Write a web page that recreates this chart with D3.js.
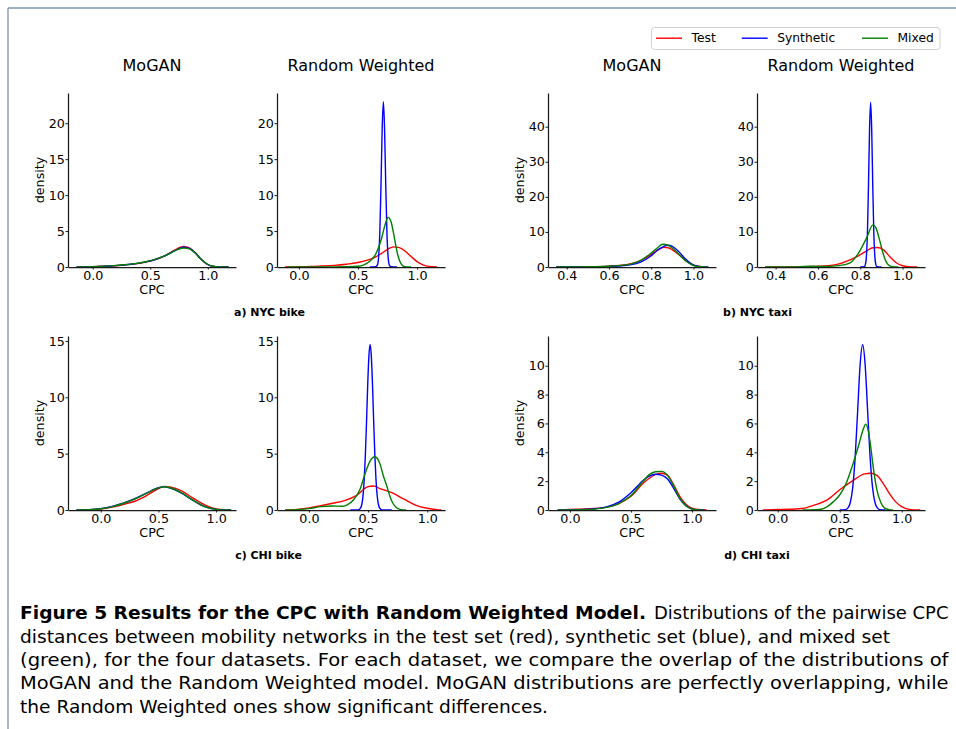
<!DOCTYPE html>
<html>
<head>
<meta charset="utf-8">
<script src="https://cdn.jsdelivr.net/npm/d3@7"></script>
<style>
  html, body { margin: 0; padding: 0; background: #fff; }
  svg { display: block; }
</style>
</head>
<body>
<svg id="chart" width="956" height="729"></svg>
<script>
// ---------------- DATA ----------------
const seriesNames = ["Test", "Synthetic", "Mixed"];
const modelNames = ["MoGAN", "Random Weighted"];
const datasetNames = ["a) NYC bike", "b) NYC taxi", "c) CHI bike", "d) CHI taxi"];

const xTicksNYCbike = [0.0, 0.5, 1.0];
const xTicksNYCtaxi = [0.4, 0.6, 0.8, 1.0];
const xTicksCHIbike = [0.0, 0.5, 1.0];
const xTicksCHItaxi = [0.0, 0.5, 1.0];
const yTicksNYCbike = [0, 5, 10, 15, 20];
const yTicksNYCtaxi = [0, 10, 20, 30, 40];
const yTicksCHIbike = [0, 5, 10, 15];
const yTicksCHItaxi = [0, 2, 4, 6, 8, 10];

// density curves [CPC, density]
const nycBikeMoganTest = [[-0.14,0],[-0.05,0.02],[0.05,0.06],[0.15,0.13],[0.25,0.24],[0.35,0.4],[0.45,0.65],[0.55,1.05],[0.62,1.5],[0.68,2.05],[0.74,2.6],[0.79,2.85],[0.84,2.65],[0.89,2.0],[0.94,1.1],[0.99,0.42],[1.04,0.1],[1.1,0.01],[1.18,0]];
const nycBikeMoganSynthetic = [[-0.14,0],[-0.05,0.02],[0.05,0.07],[0.15,0.14],[0.25,0.26],[0.35,0.42],[0.45,0.68],[0.55,1.08],[0.62,1.5],[0.68,2.0],[0.74,2.5],[0.79,2.75],[0.84,2.6],[0.89,1.98],[0.94,1.1],[0.99,0.43],[1.04,0.1],[1.1,0.01],[1.18,0]];
const nycBikeMoganMixed = [[-0.14,0],[-0.05,0.02],[0.05,0.07],[0.15,0.15],[0.25,0.27],[0.35,0.44],[0.45,0.7],[0.55,1.1],[0.62,1.5],[0.68,1.98],[0.74,2.45],[0.79,2.65],[0.84,2.52],[0.89,1.95],[0.94,1.1],[0.99,0.45],[1.04,0.11],[1.1,0.01],[1.18,0]];

const nycBikeRandomTest = [[-0.12,0],[0,0.03],[0.1,0.07],[0.2,0.13],[0.3,0.22],[0.4,0.38],[0.5,0.62],[0.6,1.05],[0.65,1.4],[0.7,1.9],[0.75,2.45],[0.8,2.8],[0.85,2.7],[0.9,2.2],[0.95,1.45],[1.0,0.75],[1.05,0.3],[1.1,0.08],[1.17,0]];
const nycBikeRandomSynthetic = [[0.6,0],[0.65,0.05],[0.665,0.3],[0.675,1.45],[0.685,4.85],[0.695,11.5],[0.705,19.3],[0.715,23],[0.725,19.3],[0.735,11.5],[0.745,4.85],[0.755,1.45],[0.765,0.3],[0.78,0.03],[0.83,0]];
const nycBikeRandomMixed = [[-0.1,0],[0.1,0.005],[0.3,0.01],[0.4,0.03],[0.5,0.1],[0.55,0.3],[0.6,0.8],[0.65,1.8],[0.7,4.0],[0.73,5.9],[0.755,6.9],[0.78,6.3],[0.8,4.8],[0.82,3.0],[0.84,1.5],[0.86,0.6],[0.88,0.15],[0.9,0.03],[0.95,0]];

const nycTaxiMoganTest = [[0.35,0],[0.4,0.02],[0.5,0.08],[0.6,0.25],[0.65,0.45],[0.7,0.85],[0.75,1.8],[0.8,3.6],[0.83,4.8],[0.86,5.6],[0.88,5.5],[0.9,4.9],[0.93,3.6],[0.96,2.0],[0.99,0.8],[1.02,0.2],[1.05,0.03],[1.07,0]];
const nycTaxiMoganSynthetic = [[0.35,0],[0.5,0.05],[0.6,0.15],[0.65,0.3],[0.7,0.6],[0.75,1.4],[0.8,3.2],[0.83,4.8],[0.86,5.9],[0.88,6.2],[0.9,5.9],[0.93,4.4],[0.96,2.4],[0.99,0.9],[1.02,0.2],[1.05,0.02],[1.07,0]];
const nycTaxiMoganMixed = [[0.35,0],[0.5,0.06],[0.6,0.22],[0.65,0.4],[0.7,0.8],[0.75,1.9],[0.8,4.0],[0.83,5.5],[0.855,6.5],[0.88,6.2],[0.9,5.4],[0.93,3.7],[0.96,1.9],[0.99,0.7],[1.02,0.15],[1.05,0.02],[1.07,0]];

const nycTaxiRandomTest = [[0.35,0],[0.4,0.01],[0.5,0.05],[0.6,0.2],[0.65,0.4],[0.7,0.9],[0.75,2.0],[0.78,2.8],[0.8,3.5],[0.83,4.6],[0.86,5.5],[0.88,5.55],[0.91,4.9],[0.94,2.9],[0.97,1.2],[1.0,0.35],[1.03,0.08],[1.06,0.01],[1.07,0]];
const nycTaxiRandomSynthetic = [[0.8,0],[0.819,0.09],[0.824,0.62],[0.829,2.95],[0.834,9.9],[0.839,23.6],[0.844,39.5],[0.849,47],[0.854,39.5],[0.859,23.6],[0.864,9.9],[0.869,2.95],[0.874,0.62],[0.879,0.09],[0.9,0]];
const nycTaxiRandomMixed = [[0.35,0],[0.5,0.05],[0.57,0.2],[0.62,0.15],[0.7,0.4],[0.75,1.1],[0.79,3.8],[0.83,8.3],[0.86,12],[0.875,11],[0.89,8.0],[0.905,4.5],[0.92,1.8],[0.935,0.5],[0.95,0.1],[0.98,0]];

const chiBikeMoganTest = [[-0.21,0],[-0.1,0.02],[0.0,0.08],[0.1,0.25],[0.2,0.5],[0.3,0.8],[0.4,1.3],[0.5,1.9],[0.55,2.1],[0.6,2.05],[0.7,1.7],[0.8,1.05],[0.9,0.45],[1.0,0.1],[1.1,0.01],[1.13,0]];
const chiBikeMoganSynthetic = [[-0.21,0],[-0.1,0.03],[0.0,0.12],[0.1,0.32],[0.2,0.62],[0.3,1.02],[0.4,1.52],[0.5,1.97],[0.55,2.05],[0.6,1.95],[0.7,1.5],[0.8,0.85],[0.9,0.3],[1.0,0.06],[1.1,0],[1.13,0]];
const chiBikeMoganMixed = [[-0.21,0],[-0.1,0.03],[0.0,0.11],[0.1,0.3],[0.2,0.6],[0.3,1.0],[0.4,1.5],[0.5,1.96],[0.55,2.06],[0.6,1.97],[0.7,1.52],[0.8,0.87],[0.9,0.31],[1.0,0.06],[1.1,0],[1.13,0]];

const chiBikeRandomTest = [[-0.2,0],[-0.1,0.06],[0.0,0.18],[0.1,0.38],[0.2,0.6],[0.3,0.83],[0.4,1.27],[0.5,2.07],[0.55,2.13],[0.6,1.9],[0.7,1.54],[0.8,0.98],[0.9,0.44],[1.0,0.15],[1.1,0.01],[1.12,0]];
const chiBikeRandomSynthetic = [[0.35,0],[0.417,0.015],[0.437,0.19],[0.447,0.51],[0.457,1.25],[0.467,2.65],[0.477,4.9],[0.487,7.9],[0.497,11.2],[0.507,13.7],[0.517,14.7],[0.527,13.7],[0.537,11.2],[0.547,7.9],[0.557,4.9],[0.567,2.65],[0.577,1.25],[0.587,0.51],[0.597,0.19],[0.617,0.015],[0.7,0]];
const chiBikeRandomMixed = [[-0.2,0],[-0.1,0.03],[0.0,0.12],[0.1,0.3],[0.2,0.35],[0.28,0.33],[0.32,0.44],[0.376,0.89],[0.43,1.8],[0.48,3.4],[0.52,4.4],[0.555,4.73],[0.58,4.55],[0.6,4.1],[0.63,3.0],[0.66,2.07],[0.69,1.05],[0.71,0.6],[0.74,0.2],[0.77,0.06],[0.82,0]];

const chiTaxiMoganTest = [[-0.1,0],[0.0,0.04],[0.1,0.06],[0.2,0.1],[0.3,0.2],[0.4,0.45],[0.5,0.95],[0.6,1.85],[0.65,2.2],[0.7,2.45],[0.75,2.55],[0.8,2.4],[0.85,1.75],[0.9,0.95],[0.95,0.4],[1.0,0.12],[1.05,0.03],[1.12,0]];
const chiTaxiMoganSynthetic = [[-0.1,0],[0.0,0.01],[0.1,0.03],[0.2,0.08],[0.3,0.22],[0.4,0.55],[0.5,1.2],[0.6,2.05],[0.65,2.35],[0.7,2.48],[0.75,2.42],[0.8,2.15],[0.85,1.5],[0.9,0.78],[0.95,0.3],[1.0,0.08],[1.05,0.01],[1.1,0]];
const chiTaxiMoganMixed = [[-0.1,0],[0.1,0.02],[0.2,0.06],[0.3,0.18],[0.4,0.45],[0.5,1.0],[0.6,2.0],[0.65,2.45],[0.7,2.65],[0.75,2.68],[0.8,2.4],[0.85,1.65],[0.9,0.82],[0.95,0.3],[1.0,0.07],[1.05,0.01],[1.1,0]];

const chiTaxiRandomTest = [[-0.12,0],[-0.1,0.01],[0.0,0.03],[0.1,0.05],[0.2,0.1],[0.3,0.35],[0.4,0.7],[0.5,1.4],[0.6,2.0],[0.7,2.5],[0.75,2.55],[0.8,2.4],[0.85,1.85],[0.9,1.15],[0.95,0.58],[1.0,0.23],[1.05,0.06],[1.1,0.01],[1.15,0]];
const chiTaxiRandomSynthetic = [[0.5,0],[0.545,0.02],[0.565,0.13],[0.585,0.5],[0.605,1.55],[0.625,3.7],[0.645,6.9],[0.665,10.1],[0.685,11.45],[0.705,10.1],[0.725,6.9],[0.745,3.7],[0.765,1.55],[0.785,0.5],[0.805,0.13],[0.825,0.02],[0.87,0]];
const chiTaxiRandomMixed = [[0.2,0],[0.3,0.02],[0.35,0.05],[0.4,0.23],[0.45,0.58],[0.5,1.04],[0.55,1.8],[0.6,3.0],[0.65,4.4],[0.69,5.6],[0.71,5.95],[0.73,5.5],[0.75,4.4],[0.77,3.0],[0.8,1.4],[0.83,0.55],[0.86,0.15],[0.9,0.02],[0.93,0]];

const captionBold = "Figure 5  Results for the CPC with Random Weighted Model.";
const captionLines = [
  "Distributions of the pairwise CPC",
  "distances between mobility networks in the test set (red), synthetic set (blue), and mixed set",
  "(green), for the four datasets. For each dataset, we compare the overlap of the distributions of",
  "MoGAN and the Random Weighted model. MoGAN distributions are perfectly overlapping, while",
  "the Random Weighted ones show significant differences."
];

// ---------------- LAYOUT / STYLE ----------------
const colors = { Test: "#ff0000", Synthetic: "#0000ff", Mixed: "#008000" };
const FONT = "'DejaVu Sans', Verdana, sans-serif";

const panels = [
  { ds: 0, m: 0, left: 68,  top: 93,  xd: [-0.215, 1.245], yd: [0, 24.2], xt: xTicksNYCbike, yt: yTicksNYCbike, curves: [nycBikeMoganTest, nycBikeMoganSynthetic, nycBikeMoganMixed] },
  { ds: 0, m: 1, left: 277, top: 93,  xd: [-0.186, 1.237], yd: [0, 24.2], xt: xTicksNYCbike, yt: yTicksNYCbike, curves: [nycBikeRandomTest, nycBikeRandomSynthetic, nycBikeRandomMixed] },
  { ds: 1, m: 0, left: 548, top: 93,  xd: [0.311, 1.107], yd: [0, 49.6], xt: xTicksNYCtaxi, yt: yTicksNYCtaxi, curves: [nycTaxiMoganTest, nycTaxiMoganSynthetic, nycTaxiMoganMixed] },
  { ds: 1, m: 1, left: 757, top: 93,  xd: [0.312, 1.106], yd: [0, 49.6], xt: xTicksNYCtaxi, yt: yTicksNYCtaxi, curves: [nycTaxiRandomTest, nycTaxiRandomSynthetic, nycTaxiRandomMixed] },
  { ds: 2, m: 0, left: 68,  top: 336, xd: [-0.284, 1.172], yd: [0, 15.44], xt: xTicksCHIbike, yt: yTicksCHIbike, curves: [chiBikeMoganTest, chiBikeMoganSynthetic, chiBikeMoganMixed] },
  { ds: 2, m: 1, left: 277, top: 336, xd: [-0.27, 1.15],   yd: [0, 15.44], xt: xTicksCHIbike, yt: yTicksCHIbike, curves: [chiBikeRandomTest, chiBikeRandomSynthetic, chiBikeRandomMixed] },
  { ds: 3, m: 0, left: 548, top: 336, xd: [-0.18, 1.197],  yd: [0, 12.06], xt: xTicksCHItaxi, yt: yTicksCHItaxi, curves: [chiTaxiMoganTest, chiTaxiMoganSynthetic, chiTaxiMoganMixed] },
  { ds: 3, m: 1, left: 757, top: 336, xd: [-0.167, 1.188], yd: [0, 12.06], xt: xTicksCHItaxi, yt: yTicksCHItaxi, curves: [chiTaxiRandomTest, chiTaxiRandomSynthetic, chiTaxiRandomMixed] }
];
const PW = 168, PH = 174;

const svg = d3.select("#chart");
svg.append("rect").attr("width", 956).attr("height", 729).attr("fill", "#fff");

// frame
svg.append("line").attr("x1", 8).attr("x2", 956).attr("y1", 8).attr("y2", 8)
  .attr("stroke", "#7d93b2").attr("stroke-width", 1.3);
svg.append("line").attr("x1", 8).attr("x2", 8).attr("y1", 8).attr("y2", 729)
  .attr("stroke", "#7d93b2").attr("stroke-width", 1.3);

panels.forEach(p => {
  const g = svg.append("g").attr("transform", `translate(${p.left},${p.top})`);
  const x = d3.scaleLinear().domain(p.xd).range([0, PW]);
  const y = d3.scaleLinear().domain(p.yd).range([PH, 0]);
  const line = d3.line().x(d => x(d[0])).y(d => y(d[1])).curve(d3.curveMonotoneX);

  p.curves.forEach((c, i) => {
    g.append("path").datum(c).attr("d", line)
      .attr("fill", "none").attr("stroke", colors[seriesNames[i]])
      .attr("stroke-width", 1.4).attr("stroke-linejoin", "round");
  });

  const xa = g.append("g").attr("transform", `translate(0,${PH})`)
    .call(d3.axisBottom(x).tickValues(p.xt).tickFormat(d3.format(".1f")).tickSize(2.5).tickPadding(1.8).tickSizeOuter(0));
  const ya = g.append("g")
    .call(d3.axisLeft(y).tickValues(p.yt).tickFormat(d3.format("d")).tickSize(2.5).tickPadding(0.6).tickSizeOuter(0));
  [xa, ya].forEach(a => {
    a.select(".domain").attr("stroke", "#1a1a1a").attr("stroke-width", 1.25);
    a.selectAll(".tick line").attr("stroke", "#1a1a1a").attr("stroke-width", 1);
    a.selectAll(".tick text").attr("font-family", FONT).attr("font-size", 12.7).attr("fill", "#000");
  });

  g.append("text").attr("x", PW / 2).attr("y", PH + 26.5).attr("text-anchor", "middle")
    .attr("font-family", FONT).attr("font-size", 12.7).attr("fill", "#000").text("CPC");

  if (p.m === 0) {
    g.append("text").attr("transform", `translate(${44 - p.left + (p.left > 300 ? 480 : 0)},${PH / 2}) rotate(-90)`)
      .attr("text-anchor", "middle").attr("font-family", FONT).attr("font-size", 12.7).attr("fill", "#000")
      .text("density");
  }
  if (p.top < 200) {
    svg.append("text").attr("x", p.left + (p.m === 0 ? 84 : 84)).attr("y", 71).attr("text-anchor", "middle")
      .attr("font-family", FONT).attr("font-size", 16).attr("fill", "#000").text(modelNames[p.m]);
  }
});

// dataset sub-captions
const subPos = [[269.5, 315.7], [757.5, 315.7], [268.5, 559], [757, 559]];
datasetNames.forEach((t, i) => {
  svg.append("text").attr("x", subPos[i][0]).attr("y", subPos[i][1]).attr("text-anchor", "middle")
    .attr("font-family", FONT).attr("font-size", 11).attr("font-weight", "bold").attr("fill", "#000").text(t);
});

// legend
const lg = svg.append("g");
lg.append("rect").attr("x", 651.5).attr("y", 27.5).attr("width", 288.5).attr("height", 22).attr("rx", 3)
  .attr("fill", "#fff").attr("stroke", "#d0d0d0").attr("stroke-width", 1);
const legX = [656, 741.7, 862];
seriesNames.forEach((s, i) => {
  lg.append("line").attr("x1", legX[i]).attr("x2", legX[i] + 26).attr("y1", 38.2).attr("y2", 38.2)
    .attr("stroke", colors[s]).attr("stroke-width", 1.4);
  lg.append("text").attr("x", legX[i] + 35.5).attr("y", 42.4)
    .attr("font-family", FONT).attr("font-size", 12.3).attr("fill", "#000").text(s);
});

// caption
const CFONT = "'DejaVu Sans Condensed', 'Liberation Sans Narrow', 'Open Sans', sans-serif";
const cap = svg.append("g").attr("fill", "#000").attr("font-family", CFONT).attr("font-size", 17.5);
cap.append("text").attr("x", 20).attr("y", 619).attr("font-weight", "bold")
  .attr("textLength", 626).attr("lengthAdjust", "spacingAndGlyphs").text(captionBold);
const lineY = [619, 642.6, 666, 689.4, 712.8];
const lineX0 = [654, 20, 20, 20, 20];
const lineX1 = [948.5, 890, 948.5, 948.5, 548];
captionLines.forEach((t, i) => {
  cap.append("text").attr("x", lineX0[i]).attr("y", lineY[i])
    .attr("textLength", lineX1[i] - lineX0[i]).attr("lengthAdjust", "spacingAndGlyphs").text(t);
});
</script>
</body>
</html>
